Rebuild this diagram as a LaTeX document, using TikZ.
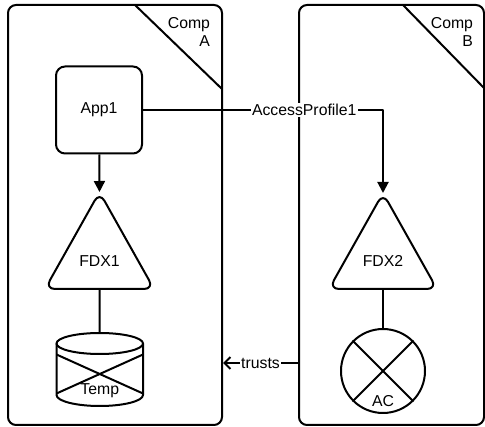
\documentclass[tikz,border=0pt]{standalone}
\usepackage{fontspec}
\setmainfont{Liberation Sans}
\usetikzlibrary{arrows.meta}
\usetikzlibrary{positioning}
\tikzset{comp/.style = {draw, rounded corners = 8, minimum height = 420, inner sep = 0}}
\tikzset{app/.style = {draw, rounded corners = 9, minimum width = 86, minimum height = 87}}
\tikzset{lbl/.style = {fill = white, inner sep = 1}}
\tikzset{complbl/.style = {align = right, anchor = north east, inner sep = 0}}
\tikzset{tip/.style = {-{Triangle[length = 11pt, width = 11pt]}}}
\tikzset{opentip/.style = {-{Straight Barb[length = 6pt, width = 12pt]}}}

\begin{document}
\begin{tikzpicture}[x = 1pt, y = -1pt, line width = 2pt, line join = round,
    every node/.style = {font = \fontsize{15.8}{18.7}\selectfont}]
      \useasboundingbox (0, 0) rectangle (485, 427);

      % components
      \node [comp, minimum width = 214] (compA) at (115, 215) {};
      \node [comp, minimum width = 185] (compB) at (391.5, 215) {};
      \draw (135, 5) -- (222, 89);
      \draw (403, 5) -- (484, 88);
      \node [complbl] (compAlbl) at (211, 16) {Comp\\A};
      \node [complbl] (compBlbl) at (474, 16) {Comp\\B};

      % component A
      \node [app] (app) at (99, 110) {App1};
      \draw [rounded corners = 10] (99.5, 192) -- (154, 289) -- (45, 289) -- cycle;
      \coordinate (fdx1top) at (99.5, 192);
      \coordinate (fdx1bot) at (99.5, 289);
      \node (fdx1) at (99.5, 261) {FDX1};
      \draw (56.5, 343.5) -- (56.5, 395)
        arc [start angle = 180, end angle = 0, x radius = 43.25, y radius = 11]
        -- (143, 343.5);
      \draw (99.75, 343.5) ellipse [x radius = 43.25, y radius = 10.5];
      \draw (56.5, 354.5) -- (143, 393.5);
      \draw (143, 354.5) -- (56.5, 393.5);
      \coordinate (temptop) at (99.75, 333);
      \node (temp) at (99.75, 391) {Temp};

      % component B
      \draw [rounded corners = 10] (383, 193) -- (437, 289) -- (329, 289) -- cycle;
      \coordinate (fdx2top) at (383, 193);
      \coordinate (fdx2bot) at (383, 289);
      \node (fdx2) at (383, 261) {FDX2};
      \node [draw, circle, minimum size = 84, inner sep = 0] (ac) at (383, 371) {};
      \draw (ac.north west) -- (ac.south east);
      \draw (ac.north east) -- (ac.south west);
      \node (aclbl) at (383, 401) {AC};

      % connections
      \draw [tip] (app) -- (fdx1top);
      \draw (fdx1bot) -- (temptop);
      \draw [tip] (app.east) -| node [lbl, pos = 0.336] {AccessProfile1} (fdx2top);
      \draw (fdx2bot) -- (ac);
      \coordinate (trustsB) at (compB.west |- 0, 363);
      \coordinate (trustsA) at (compA.east |- 0, 363);
      \draw [opentip] (trustsB) -- node [lbl] {trusts} (trustsA);

    \end{tikzpicture}
\end{document}
